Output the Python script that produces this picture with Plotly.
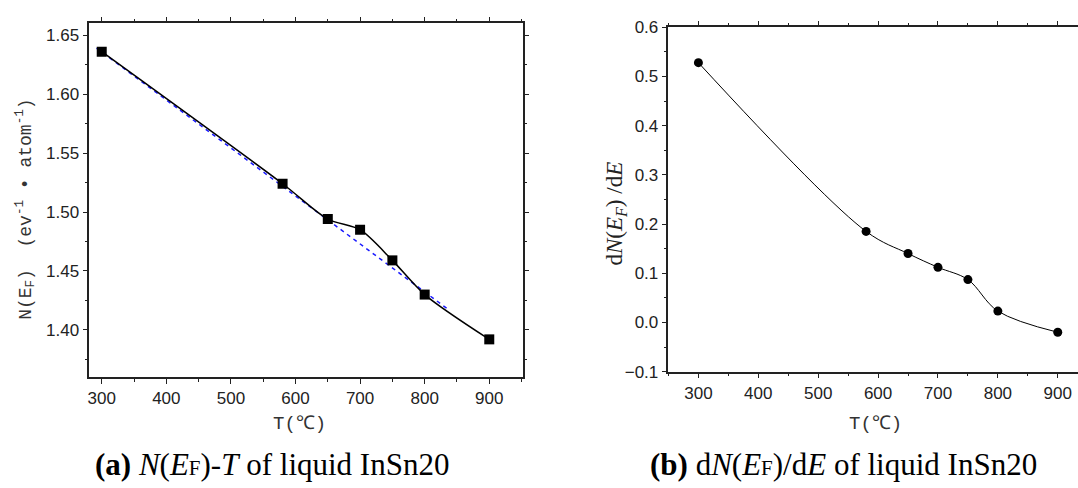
import plotly.graph_objects as go

# ---- data ----
T_a = [300, 580, 650, 700, 750, 800, 900]
N_a = [1.636, 1.524, 1.494, 1.485, 1.459, 1.430, 1.392]
fit_T = [292, 835]
fit_N = [1.639, 1.418]
T_b = [300, 580, 650, 700, 750, 800, 900]
dN_b = [0.528, 0.185, 0.140, 0.112, 0.087, 0.023, -0.020]

W, H = 1078, 488

def px_x(x):
    return x / W

def px_y(y):
    return 1 - y / H

fig = go.Figure()

# left panel
fig.add_trace(go.Scatter(x=fit_T, y=fit_N, mode="lines",
                         line=dict(color="#1a1aff", width=1.5, dash="4px,4px"),
                         xaxis="x", yaxis="y", showlegend=False))
fig.add_trace(go.Scatter(x=T_a, y=N_a, mode="lines+markers",
                         line=dict(color="black", width=1.5, shape="spline", smoothing=0.8),
                         marker=dict(symbol="square", size=10, color="black"),
                         xaxis="x", yaxis="y", showlegend=False))
# right panel
fig.add_trace(go.Scatter(x=T_b, y=dN_b, mode="lines+markers",
                         line=dict(color="black", width=1, shape="spline", smoothing=1.0),
                         marker=dict(symbol="circle", size=9, color="black"),
                         xaxis="x2", yaxis="y2", showlegend=False))

tickfont = dict(family="Liberation Sans, Arial, sans-serif", size=17, color="#222")
common_ax = dict(showline=True, linecolor="#222", linewidth=1.5, ticks="outside",
                 ticklen=5, tickwidth=1, tickcolor="#222", showgrid=False,
                 zeroline=False, tickfont=tickfont)

fig.update_layout(
    width=W, height=H, margin=dict(l=0, r=0, t=0, b=0),
    paper_bgcolor="white", plot_bgcolor="white",
    xaxis=dict(domain=[px_x(87.5), px_x(521.5)], range=[280.8, 951.5],
               tickvals=[300, 400, 500, 600, 700, 800, 900], mirror="allticks",
               minor=dict(dtick=50, tick0=0, ticklen=3, ticks="outside", tickcolor="#222"),
               anchor="y", **common_ax),
    yaxis=dict(domain=[px_y(383), px_y(15)], range=[1.36, 1.66],
               tickvals=[1.40, 1.45, 1.50, 1.55, 1.60, 1.65], tickformat=".2f",
               mirror="allticks",
               minor=dict(dtick=0.025, tick0=0, ticklen=3, ticks="outside", tickcolor="#222"),
               anchor="x", **common_ax),
    xaxis2=dict(domain=[px_x(667.7), 1.0], range=[250, 933.8],
                tickvals=[300, 400, 500, 600, 700, 800, 900], mirror="allticks",
                minor=dict(dtick=50, tick0=0, ticklen=3, ticks="outside", tickcolor="#222"),
                anchor="y2", **common_ax),
    yaxis2=dict(domain=[px_y(377.3), px_y(19)], range=[-0.1, 0.6],
                tickvals=[-0.1, 0.0, 0.1, 0.2, 0.3, 0.4, 0.5, 0.6], tickformat=".1f",
                mirror=False,
                minor=dict(dtick=0.05, tick0=0, ticklen=3, ticks="outside", tickcolor="#222"),
                anchor="x2", **common_ax),
)

serif = "Liberation Serif, Times New Roman, serif"
mono = "Liberation Mono, Courier New, monospace"
ann = [
    dict(text="N(E<sub>F</sub>)  (ev<sup>-1</sup> • atom<sup>-1</sup>)",
         x=px_x(24), y=px_y(208), textangle=-90,
         font=dict(family=mono, size=18, color="#333")),
    dict(text="T(℃)", x=px_x(298), y=px_y(432),
         font=dict(family=mono, size=19, color="#333")),
    dict(text="T(℃)", x=px_x(875), y=px_y(432),
         font=dict(family=mono, size=19, color="#333")),
    dict(text="d<i>N</i>(<i>E<sub>F</sub></i>) /d<i>E</i>",
         x=px_x(615), y=px_y(213), textangle=-90,
         font=dict(family=serif, size=23, color="#222")),
    dict(text="<b>(a)</b> <i>N</i>(<i>E</i><span style='font-size:21px'>F</span>)-<i>T</i> of liquid InSn20",
         x=px_x(271), y=px_y(474),
         font=dict(family=serif, size=31, color="black")),
    dict(text="<b>(b)</b> d<i>N</i>(<i>E</i><span style='font-size:21px'>F</span>)/d<i>E</i> of liquid InSn20",
         x=px_x(843), y=px_y(474),
         font=dict(family=serif, size=31, color="black")),
]
for a in ann:
    a.update(xref="paper", yref="paper", showarrow=False, xanchor="center", yanchor="middle")
fig.update_layout(annotations=ann)

fig.write_html("out.html")
